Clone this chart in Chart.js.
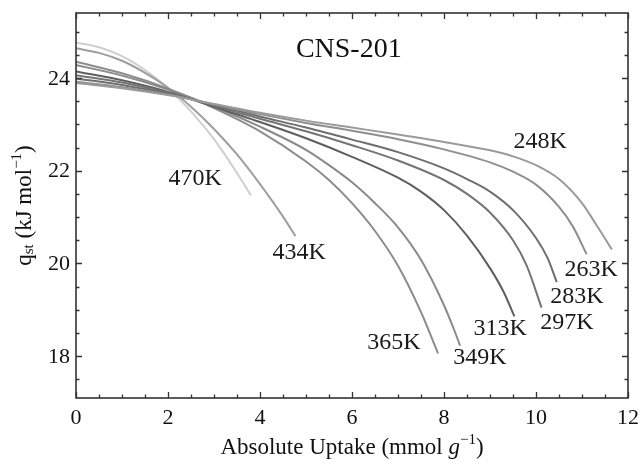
<!DOCTYPE html>
<html><head><meta charset="utf-8">
<script src="https://cdn.jsdelivr.net/npm/chart.js@4/dist/chart.umd.min.js"></script>
<style>html,body{margin:0;padding:0;background:#fff;overflow:hidden}#wrap{width:642px;height:471px;position:relative}</style>
</head><body><div id="wrap"><canvas id="c" width="642" height="471"></canvas></div>
<script>
// ---- data ----
const temps = ['248K','263K','283K','297K','313K','349K','365K','434K','470K'];
const x248 = [0,1,2,3,4,5,6,7,8,9,9.5,10,10.5,11,11.3,11.65];
const q248 = [23.89,23.78,23.63,23.44,23.25,23.08,22.93,22.78,22.62,22.44,22.31,22.12,21.82,21.3,20.85,20.3];
const x263 = [0,1,2,3,4,5,6,7,8,9,9.5,10,10.5,10.8,11.1];
const q263 = [23.92,23.8,23.64,23.43,23.22,23.03,22.86,22.68,22.46,22.18,21.98,21.7,21.22,20.8,20.2];
const x283 = [0,1,2,3,4,5,6,7,8,8.5,9,9.5,10,10.25,10.45];
const q283 = [23.99,23.85,23.66,23.42,23.17,22.93,22.67,22.4,22.05,21.82,21.55,21.15,20.55,20.12,19.6];
const x297 = [0,1,2,3,4,5,6,7,8,8.5,9,9.5,9.8,10.12];
const q297 = [24.06,23.9,23.68,23.4,23.12,22.85,22.55,22.22,21.8,21.5,21.1,20.5,19.95,19.05];
const x313 = [0,1,2,3,4,5,6,7,7.5,8,8.5,9,9.3,9.53];
const q313 = [24.14,23.95,23.7,23.38,23.05,22.7,22.3,21.85,21.55,21.15,20.6,19.9,19.38,18.86];
const x349 = [0,1,2,3,4,5,5.5,6,6.5,7,7.5,8,8.2,8.35];
const q349 = [24.28,24.05,23.75,23.38,22.95,22.45,22.12,21.75,21.3,20.78,20.08,19.1,18.62,18.23];
const x365 = [0,1,2,3,4,5,5.5,6,6.5,7,7.5,7.87];
const q365 = [24.35,24.1,23.77,23.35,22.85,22.2,21.8,21.3,20.7,19.95,18.95,18.06];
const x434 = [0,0.5,1,1.5,2,2.5,3,3.5,4,4.5,4.77];
const q434 = [24.64,24.54,24.37,24.11,23.79,23.38,22.90,22.35,21.71,21.01,20.59];
const x470 = [0,0.5,1,1.5,2,2.5,3,3.5,3.8];
const q470 = [24.76,24.66,24.47,24.17,23.78,23.28,22.68,21.95,21.47];
const xTicks = [0,2,4,6,8,10,12];
const yTicks = [18,20,22,24];
const chartTitle = 'CNS-201';

// ---- styling / annotation placement ----
const seriesX = [x248,x263,x283,x297,x313,x349,x365,x434,x470];
const seriesQ = [q248,q263,q283,q297,q313,q349,q365,q434,q470];
const lineColors = ['#9a9a9a','#8f8f8f','#6e6e6e','#747474','#5e5e5e','#8a8a8a','#8c8c8c','#9e9e9e','#cfcfcf'];
const labelAnchors = [[10.09,22.62],[11.2,19.87],[10.89,19.29],[10.67,18.73],[9.22,18.6],[8.78,17.97],[6.91,18.3],[4.85,20.24],[2.59,21.82]];
const FONT = '"Liberation Serif", "DejaVu Serif", serif';

const datasets = temps.map((t,i)=>({
  label: t,
  data: seriesX[i].map((x,j)=>({x:x, y:seriesQ[i][j]})),
  borderColor: lineColors[i],
  borderWidth: 2,
  pointRadius: 0,
  fill: false,
  cubicInterpolationMode: 'monotone'
}));

function drawRich(ctx, parts, x, y, align){
  let total = 0;
  parts.forEach(p=>{ctx.font=(p[3]?'italic ':'')+p[1]+'px '+FONT; total += ctx.measureText(p[0]).width;});
  let cx = align==='center' ? x - total/2 : x;
  ctx.textAlign='left';
  parts.forEach(p=>{ctx.font=(p[3]?'italic ':'')+p[1]+'px '+FONT; ctx.fillText(p[0], cx, y + p[2]); cx += ctx.measureText(p[0]).width;});
}

const framePlugin = {
  id:'frame',
  afterDraw(chart){
    const {ctx, chartArea:a, scales:{x, y}} = chart;
    ctx.save();
    ctx.strokeStyle='#333'; ctx.lineWidth=1.6;
    ctx.strokeRect(a.left, a.top, a.right-a.left, a.bottom-a.top);
    ctx.lineWidth=1.3;
    ctx.beginPath();
    for(let v=x.min; v<=x.max+1e-9; v+=0.5){
      const px = Math.round(x.getPixelForValue(v))+0.5;
      const L = (Math.abs(v/2-Math.round(v/2))<1e-9) ? 6 : 3.5;
      ctx.moveTo(px, a.bottom); ctx.lineTo(px, a.bottom-L);
      ctx.moveTo(px, a.top); ctx.lineTo(px, a.top+L);
    }
    for(let v=17.5; v<=y.max; v+=0.5){
      const py = Math.round(y.getPixelForValue(v))+0.5;
      const L = (Math.abs(v/2-Math.round(v/2))<1e-9) ? 6 : 3.5;
      ctx.moveTo(a.left, py); ctx.lineTo(a.left+L, py);
      ctx.moveTo(a.right, py); ctx.lineTo(a.right-L, py);
    }
    ctx.stroke();
    ctx.fillStyle='#111';
    ctx.font='22px '+FONT;
    ctx.textAlign='center'; ctx.textBaseline='middle';
    xTicks.forEach(v=>ctx.fillText(String(v), x.getPixelForValue(v), a.bottom+20));
    ctx.textAlign='right';
    yTicks.forEach(v=>ctx.fillText(String(v), a.left-6, y.getPixelForValue(v)+1));
    // curve labels
    ctx.textAlign='center'; ctx.font='24px '+FONT; ctx.fillStyle='#1a1a1a';
    temps.forEach((t,i)=>ctx.fillText(t, x.getPixelForValue(labelAnchors[i][0]), y.getPixelForValue(labelAnchors[i][1])));
    // chart title
    ctx.font='28px '+FONT; ctx.fillStyle='#111';
    ctx.fillText(chartTitle, x.getPixelForValue(5.93), y.getPixelForValue(24.6));
    // x title
    ctx.textBaseline='middle'; ctx.fillStyle='#111';
    drawRich(ctx, [['Absolute Uptake (mmol ',23,0,false],['g',23,0,true],['−1',15,-8,false],[')',23,0,false]], (a.left+a.right)/2, 448, 'center');
    // y title
    ctx.translate(25, (a.top+a.bottom)/2);
    ctx.rotate(-Math.PI/2);
    drawRich(ctx, [['q',23,0,false],['st',15,4,false],[' (kJ mol',23,0,false],['−1',15,-8,false],[')',23,0,false]], 0, 0, 'center');
    ctx.restore();
  }
};

new Chart(document.getElementById('c'), {
  type:'line',
  data:{datasets},
  options:{
    responsive:false, animation:false, devicePixelRatio:1,
    layout:{padding:{left:76,right:14,top:13,bottom:73}},
    scales:{
      x:{type:'linear', min:0, max:12, display:false},
      y:{type:'linear', min:17.1, max:25.4, display:false}
    },
    plugins:{legend:{display:false}, tooltip:{enabled:false}},
    elements:{line:{tension:0.4}}
  },
  plugins:[framePlugin]
});
</script></body></html>
